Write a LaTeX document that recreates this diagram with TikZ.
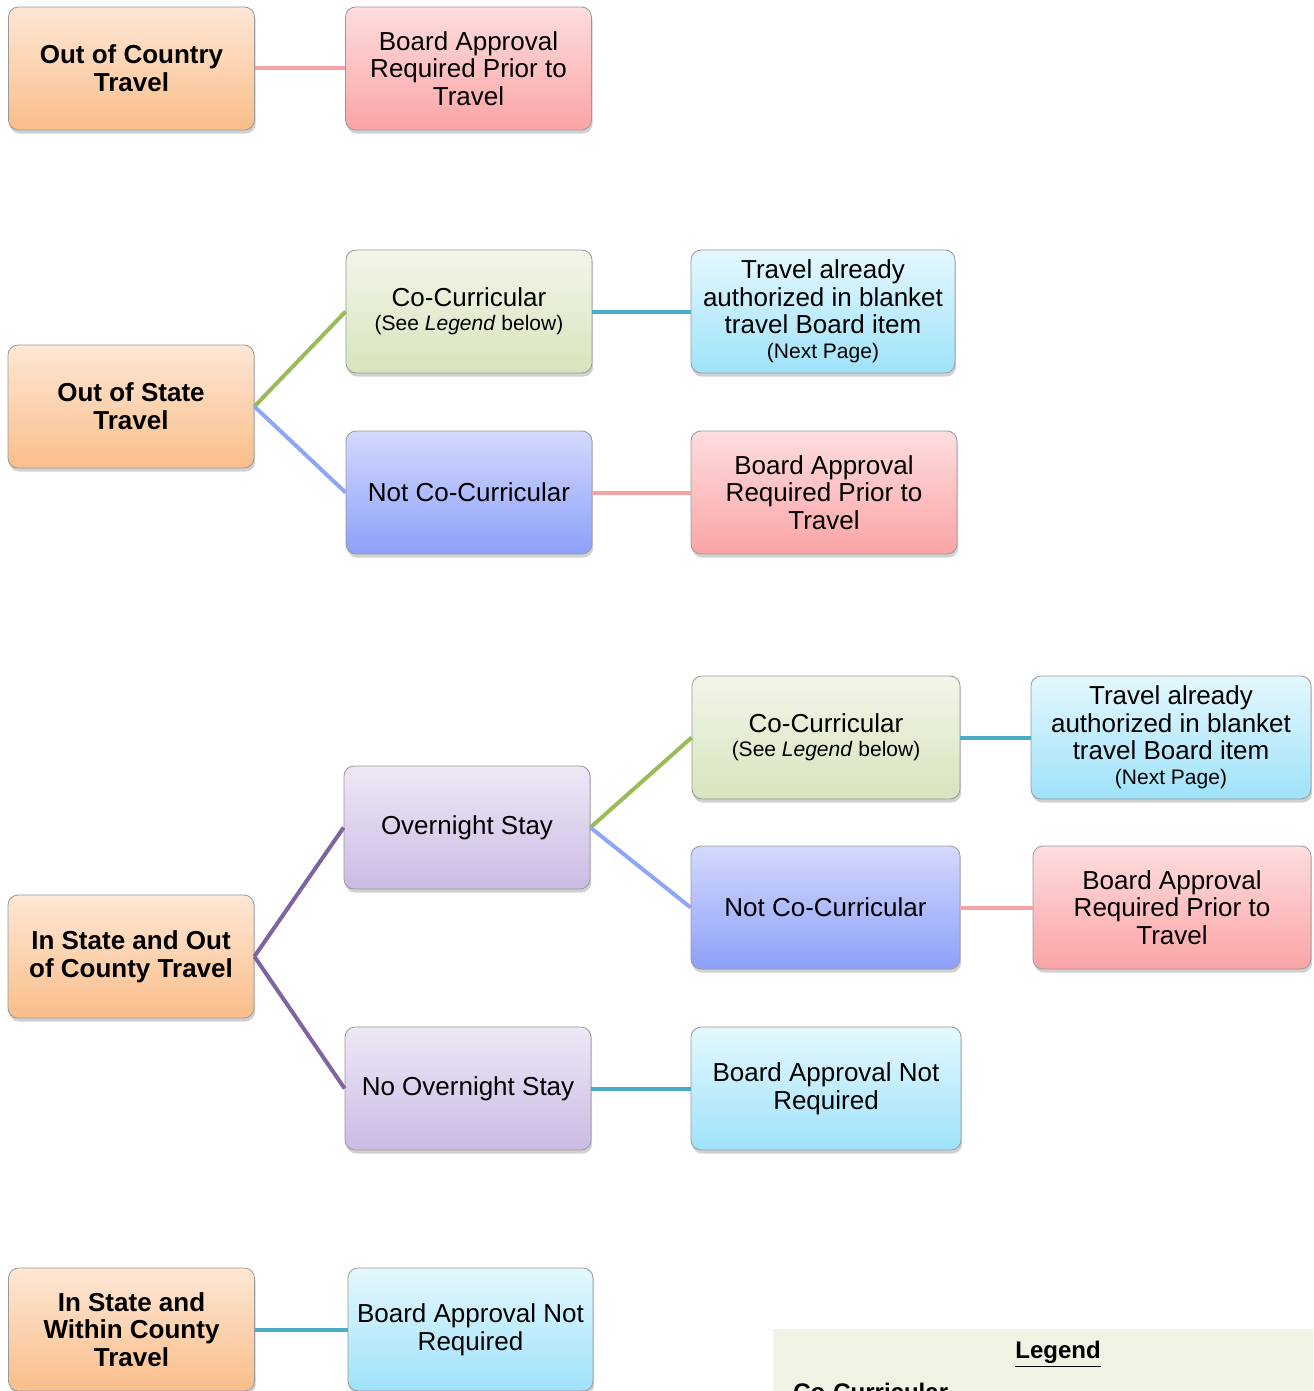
\documentclass[tikz,border=0pt]{standalone}
\usepackage{fontspec}
\setmainfont{Liberation Sans}
\usetikzlibrary{shadows,calc}
\definecolor{PeachTop}{HTML}{FEE7D5}
\definecolor{PeachBot}{HTML}{FABE8A}
\definecolor{RoseTop}{HTML}{FDDDDE}
\definecolor{RoseBot}{HTML}{FBA4A6}
\definecolor{SageTop}{HTML}{F2F6E9}
\definecolor{SageBot}{HTML}{D7E4BD}
\definecolor{SkyTop}{HTML}{E4F8FE}
\definecolor{SkyBot}{HTML}{9FE2FA}
\definecolor{IrisTop}{HTML}{D3D9FD}
\definecolor{IrisBot}{HTML}{8DA0F9}
\definecolor{LilacTop}{HTML}{EEE8F6}
\definecolor{LilacBot}{HTML}{CBBBE5}
\definecolor{LinkRose}{HTML}{F4A3A4}
\definecolor{LinkTeal}{HTML}{4BACC6}
\definecolor{LinkSage}{HTML}{9BBB59}
\definecolor{LinkIris}{HTML}{8EA6F6}
\definecolor{LinkPlum}{HTML}{8064A2}
\definecolor{LegendBg}{HTML}{EEF3E3}
\tikzset{
    block/.style = {draw=black!40, rectangle, rounded corners=5pt,
        minimum height=61.5pt, minimum width=123pt, inner sep=2pt, align=center,
        font=\fontsize{13}{13.8}\selectfont,
        drop shadow={shadow xshift=.6pt, shadow yshift=-1.8pt, opacity=.3, fill=black!60}},
    head/.style = {block, top color=PeachTop, bottom color=PeachBot,
        font=\fontsize{13}{13.8}\selectfont\bfseries},
    reqd/.style = {block, top color=RoseTop, bottom color=RoseBot},
    cocur/.style = {block, top color=SageTop, bottom color=SageBot},
    info/.style = {block, top color=SkyTop, bottom color=SkyBot},
    notcc/.style = {block, top color=IrisTop, bottom color=IrisBot},
    stay/.style = {block, top color=LilacTop, bottom color=LilacBot},
    link/.style = {line width=2pt}
}
\newcommand{\smalltext}[1]{{\fontsize{10.5}{12}\selectfont #1}}

\begin{document}
\begin{tikzpicture}[x=0.5pt, y=-0.5pt, node distance=2cm]
        \useasboundingbox (0,0) rectangle (1313,1391);
        \clip (0,0) rectangle (1313,1391);
        % out of country
        \node [head] (occ) at (131.5,68.5) {Out of Country\\Travel};
        \node [reqd, node distance=168.5pt, right of=occ] (occbap) {Board Approval\\Required Prior to\\Travel};
        \draw [link, LinkRose] (occ) -- (occbap);
        % out of state
        \node [head] (ost) at (131,406.5) {Out of State\\Travel};
        \node [cocur] (ostcc) at (469,311.5) {Co-Curricular\\[-1.8pt]\smalltext{(See \textit{Legend} below)}};
        \node [info, minimum width=132pt, node distance=177pt, right of=ostcc] (ostta) {Travel already\\authorized in blanket\\travel Board item\\[-1.3pt]\smalltext{(Next Page)}};
        \node [notcc] (ostncc) at (469,492.5) {Not Co-Curricular};
        \node [reqd, minimum width=133pt, node distance=177.5pt, right of=ostncc] (ostbap) {Board Approval\\Required Prior to\\Travel};
        \draw [link, LinkSage] (ost.east) -- (ostcc.west);
        \draw [link, LinkIris] (ost.east) -- (ostncc.west);
        \draw [link, LinkTeal] (ostcc) -- (ostta);
        \draw [link, LinkRose] (ostncc) -- (ostbap);
        % in state, out of county
        \node [head] (isoc) at (131,956.5) {In State and Out\\of County Travel};
        \node [stay] (ons) at (467,827.5) {Overnight Stay};
        \node [stay] (nons) at (468,1088.5) {No Overnight Stay};
        \node [cocur, minimum width=134pt] (onscc) at (826,737.5) {Co-Curricular\\[-1.8pt]\smalltext{(See \textit{Legend} below)}};
        \node [info, minimum width=140pt, node distance=172.5pt, right of=onscc] (onsta) {Travel already\\authorized in blanket\\travel Board item\\[-1.3pt]\smalltext{(Next Page)}};
        \node [notcc, minimum width=134.5pt] (onsncc) at (825.5,907.5) {Not Co-Curricular};
        \node [reqd, minimum width=139pt, node distance=173.25pt, right of=onsncc] (onsbap) {Board Approval\\Required Prior to\\Travel};
        \node [info, minimum width=135pt, node distance=179pt, right of=nons] (nonsbna) {Board Approval Not\\Required};
        \draw [link, LinkPlum] (isoc.east) -- (ons.west);
        \draw [link, LinkPlum] (isoc.east) -- (nons.west);
        \draw [link, LinkSage] (ons.east) -- (onscc.west);
        \draw [link, LinkIris] (ons.east) -- (onsncc.west);
        \draw [link, LinkTeal] (onscc) -- (onsta);
        \draw [link, LinkRose] (onsncc) -- (onsbap);
        \draw [link, LinkTeal] (nons) -- (nonsbna);
        % in state, within county
        \node [head] (iswc) at (131.5,1329.5) {In State and\\Within County\\Travel};
        \node [info, minimum width=122.5pt, node distance=169.5pt, right of=iswc] (iswcbna) {Board Approval Not\\Required};
        \draw [link, LinkTeal] (iswc) -- (iswcbna);
        % legend
        \fill [LegendBg] (773,1329) rectangle (1313,1400);
        \node [font=\fontsize{12}{13}\selectfont\bfseries] (legend) at (1058,1354) {\underline{Legend}};
        \node [anchor=base west, inner sep=0pt, font=\fontsize{12}{13}\selectfont\bfseries] (legcc) at (793,1400) {Co-Curricular};
\end{tikzpicture}
\end{document}
